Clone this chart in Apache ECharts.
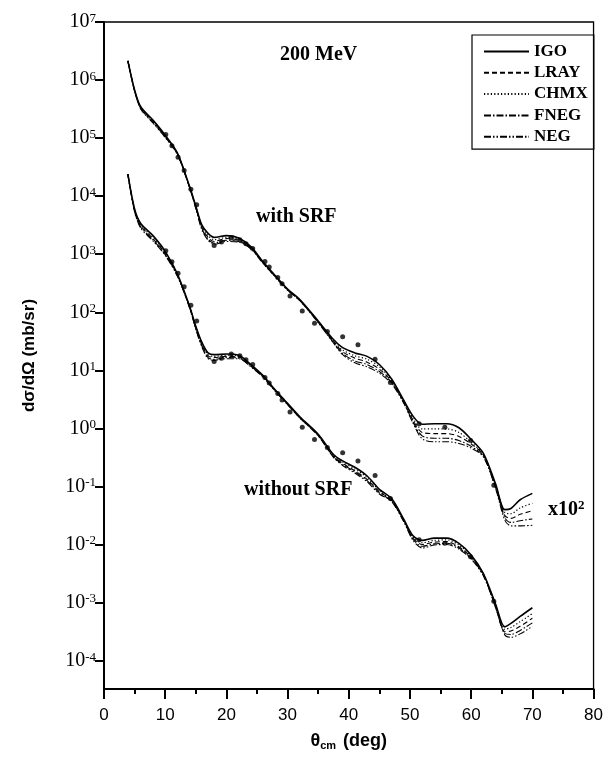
<!DOCTYPE html>
<html>
<head>
<meta charset="utf-8">
<script src="https://cdn.jsdelivr.net/npm/echarts@6/dist/echarts.min.js"></script>
<style>
  html, body { margin: 0; padding: 0; background: #fff; }
  #chart { width: 606px; height: 757px; }
</style>
</head>
<body>
<div id="chart"></div>
<script>
// Scattering angle grid (deg) for the model curves
const theta = [3.9, 5, 6, 8, 10, 12, 14, 15, 16, 17, 18, 20, 22, 24, 26, 28, 30, 32, 35, 37.5,
               39, 41, 43, 45, 47, 49, 50.5, 52, 54, 56, 58, 60, 62, 64, 65.5, 66.5, 68, 70];

// log10 of dσ/dΩ (mb/sr), calculations without SRF
const igoNoSrf  = [4.38, 3.78, 3.53, 3.32, 3.05, 2.66, 2.10, 1.76, 1.48, 1.30, 1.27, 1.28, 1.26, 1.10, 0.91, 0.66, 0.43, 0.20, -0.10, -0.45,
                   -0.56, -0.67, -0.82, -1.05, -1.21, -1.57, -1.85, -1.93, -1.89, -1.89, -1.98, -2.18, -2.50, -3.03, -3.42, -3.36, -3.24, -3.09];
const chmxNoSrf = [4.38, 3.77, 3.51, 3.29, 3.03, 2.65, 2.09, 1.75, 1.46, 1.27, 1.24, 1.26, 1.24, 1.09, 0.90, 0.65, 0.42, 0.19, -0.11, -0.47,
                   -0.58, -0.70, -0.85, -1.07, -1.23, -1.58, -1.87, -1.97, -1.93, -1.92, -2.01, -2.20, -2.51, -3.05, -3.46, -3.43, -3.33, -3.19];
const lrayNoSrf = [4.38, 3.75, 3.49, 3.27, 3.01, 2.64, 2.08, 1.73, 1.44, 1.25, 1.22, 1.24, 1.23, 1.08, 0.89, 0.65, 0.42, 0.19, -0.12, -0.48,
                   -0.60, -0.73, -0.88, -1.09, -1.24, -1.59, -1.89, -2.00, -1.96, -1.95, -2.04, -2.22, -2.52, -3.06, -3.50, -3.49, -3.41, -3.27];
const fnegNoSrf = [4.38, 3.74, 3.47, 3.25, 2.99, 2.63, 2.08, 1.72, 1.42, 1.22, 1.19, 1.22, 1.21, 1.07, 0.89, 0.64, 0.41, 0.18, -0.12, -0.49,
                   -0.62, -0.75, -0.90, -1.11, -1.25, -1.60, -1.91, -2.03, -1.99, -1.98, -2.06, -2.24, -2.53, -3.08, -3.53, -3.55, -3.48, -3.35];
const negNoSrf  = [4.38, 3.73, 3.45, 3.23, 2.98, 2.62, 2.07, 1.71, 1.40, 1.20, 1.17, 1.20, 1.20, 1.06, 0.88, 0.64, 0.41, 0.18, -0.13, -0.50,
                   -0.64, -0.77, -0.92, -1.13, -1.26, -1.61, -1.93, -2.06, -2.01, -2.00, -2.08, -2.25, -2.54, -3.09, -3.56, -3.60, -3.54, -3.41];

// log10 of dσ/dΩ (mb/sr), calculations with SRF (drawn multiplied by 10^2)
const igoSrf  = [4.33, 3.83, 3.54, 3.31, 3.05, 2.74, 2.16, 1.83, 1.50, 1.36, 1.29, 1.32, 1.28, 1.13, 0.87, 0.63, 0.40, 0.22, -0.15, -0.47,
                 -0.61, -0.70, -0.76, -0.90, -1.15, -1.52, -1.79, -1.93, -1.92, -1.92, -1.99, -2.19, -2.43, -2.96, -3.40, -3.38, -3.23, -3.12];
const chmxSrf = [4.33, 3.82, 3.53, 3.30, 3.04, 2.73, 2.15, 1.82, 1.48, 1.32, 1.25, 1.29, 1.26, 1.12, 0.86, 0.62, 0.39, 0.21, -0.16, -0.49,
                 -0.65, -0.75, -0.81, -0.94, -1.17, -1.53, -1.83, -2.01, -2.01, -2.01, -2.07, -2.24, -2.45, -2.98, -3.45, -3.47, -3.37, -3.29];
const lraySrf = [4.33, 3.82, 3.52, 3.29, 3.03, 2.73, 2.15, 1.81, 1.46, 1.29, 1.22, 1.27, 1.24, 1.11, 0.85, 0.62, 0.39, 0.21, -0.17, -0.50,
                 -0.68, -0.79, -0.86, -0.98, -1.19, -1.55, -1.86, -2.07, -2.09, -2.09, -2.14, -2.27, -2.46, -3.00, -3.50, -3.55, -3.48, -3.42];
const fnegSrf = [4.33, 3.81, 3.51, 3.27, 3.02, 2.72, 2.14, 1.80, 1.44, 1.26, 1.19, 1.24, 1.22, 1.10, 0.85, 0.61, 0.38, 0.20, -0.17, -0.52,
                 -0.71, -0.84, -0.90, -1.02, -1.21, -1.56, -1.89, -2.13, -2.17, -2.17, -2.21, -2.31, -2.48, -3.02, -3.54, -3.62, -3.59, -3.56];
const negSrf  = [4.33, 3.81, 3.50, 3.26, 3.01, 2.72, 2.14, 1.79, 1.42, 1.24, 1.17, 1.22, 1.21, 1.09, 0.84, 0.61, 0.38, 0.20, -0.18, -0.53,
                 -0.73, -0.87, -0.94, -1.05, -1.23, -1.57, -1.91, -2.18, -2.23, -2.23, -2.26, -2.34, -2.49, -3.04, -3.58, -3.68, -3.68, -3.67];

// Measured cross sections: angle (deg) and log10 of dσ/dΩ (mb/sr)
const expTheta = [10.1, 11.1, 12.1, 13.1, 14.2, 15.15, 18.0, 19.2, 20.8, 22.2, 23.2, 24.3, 26.3, 27.0,
                  28.4, 29.1, 30.4, 32.4, 34.4, 36.5, 39.0, 41.5, 44.3, 46.8, 51.5, 55.7, 59.9, 63.7];
const expLog   = [3.06, 2.87, 2.67, 2.44, 2.12, 1.85, 1.15, 1.21, 1.28, 1.25, 1.18, 1.10, 0.875, 0.78,
                  0.60, 0.49, 0.28, 0.02, -0.19, -0.33, -0.42, -0.56, -0.81, -1.21, -1.92, -1.98, -2.21, -2.98];

// Offset applied to the "with SRF" family
const SRF_SCALE = 100;

// Axis ticks
const xTicks = [0, 10, 20, 30, 40, 50, 60, 70, 80];
const yDecades = [1e-4, 1e-3, 1e-2, 1e-1, 1e0, 1e1, 1e2, 1e3, 1e4, 1e5, 1e6, 1e7];

const models = [
  { name: 'IGO',  noSrf: igoNoSrf,  srf: igoSrf,  type: 'solid',                width: 1.6 },
  { name: 'LRAY', noSrf: lrayNoSrf, srf: lraySrf, type: [5, 3],                 width: 1.1 },
  { name: 'CHMX', noSrf: chmxNoSrf, srf: chmxSrf, type: [1.2, 2.2],             width: 1.2 },
  { name: 'FNEG', noSrf: fnegNoSrf, srf: fnegSrf, type: [7, 2, 1.5, 2],         width: 1.1 },
  { name: 'NEG',  noSrf: negNoSrf,  srf: negSrf,  type: [7, 2, 1.5, 2, 1.5, 2], width: 1.1 }
];

const SERIF = '"Liberation Serif", "Times New Roman", serif';
const SANS = '"Liberation Sans", Arial, sans-serif';

function curve(logs, scale) {
  return theta.map((t, i) => [t, Math.pow(10, logs[i]) * scale]);
}

const series = [];
models.forEach(m => {
  [[m.srf, SRF_SCALE], [m.noSrf, 1]].forEach(([logs, scale]) => {
    series.push({
      name: m.name,
      type: 'line',
      data: curve(logs, scale),
      symbol: 'none',
      smooth: 0.3,
      lineStyle: { color: '#000', width: m.width, type: m.type },
      itemStyle: { color: '#000' },
      emphasis: { disabled: true },
      z: m.name === 'IGO' ? 3 : 2
    });
  });
});

[SRF_SCALE, 1].forEach(scale => {
  series.push({
    type: 'scatter',
    data: expTheta.map((t, i) => [t, Math.pow(10, expLog[i]) * scale]),
    symbol: 'circle',
    symbolSize: 5,
    itemStyle: { color: '#000' },
    emphasis: { disabled: true },
    z: 4
  });
});

const chart = echarts.init(document.getElementById('chart'), null, { renderer: 'canvas' });

chart.setOption({
  animation: false,
  backgroundColor: '#fff',
  grid: {
    left: 104, right: 12, top: 22, bottom: 68,
    show: true, borderColor: '#000', borderWidth: 1.3, backgroundColor: 'transparent'
  },
  legend: {
    data: models.map(m => m.name),
    orient: 'vertical',
    left: 472, top: 35,
    padding: [8, 6, 4, 11],
    itemGap: 4.3,
    itemWidth: 45,
    itemHeight: 14,
    borderColor: '#000',
    borderWidth: 1.2,
    borderRadius: 0,
    selectedMode: false,
    // keep only the line sample in each legend key
    itemStyle: { color: 'rgba(0,0,0,0)', borderColor: 'rgba(0,0,0,0)', borderWidth: 0 },
    textStyle: { fontFamily: SERIF, fontWeight: 'bold', fontSize: 17, color: '#000', lineHeight: 17 }
  },
  xAxis: {
    type: 'value',
    min: xTicks[0], max: xTicks[xTicks.length - 1], interval: 10,
    name: '{t|θ}{s|cm}{t| (deg)}',
    nameLocation: 'middle',
    nameGap: 42,
    nameTextStyle: {
      rich: {
        t: { fontFamily: SANS, fontWeight: 'bold', fontSize: 18, color: '#000', lineHeight: 20 },
        s: { fontFamily: SANS, fontWeight: 'bold', fontSize: 11, color: '#000', lineHeight: 20, verticalAlign: 'bottom', padding: [0, 2, 0, 0] }
      }
    },
    axisLine: { onZero: false, lineStyle: { color: '#000', width: 2 } },
    axisTick: { show: true, inside: false, length: 10, lineStyle: { color: '#000', width: 2 } },
    minorTick: { show: true, splitNumber: 2, length: 5, lineStyle: { color: '#000', width: 2 } },
    splitLine: { show: false },
    axisLabel: { fontFamily: SANS, fontSize: 17, color: '#000', margin: 18 }
  },
  yAxis: {
    type: 'log',
    logBase: 10,
    min: 3.24e-5, max: yDecades[yDecades.length - 1],
    splitNumber: 11,
    name: 'dσ/dΩ (mb/sr)',
    nameLocation: 'middle',
    nameGap: 66,
    nameTextStyle: { fontFamily: SANS, fontWeight: 'bold', fontSize: 17, color: '#000' },
    axisLine: { onZero: false, lineStyle: { color: '#000', width: 2 } },
    axisTick: { show: true, inside: false, length: 9, customValues: yDecades, lineStyle: { color: '#000', width: 2 } },
    splitLine: { show: false },
    axisLabel: {
      margin: 8,
      customValues: yDecades,
      formatter: v => {
        const e = Math.log10(v);
        if (Math.abs(e - Math.round(e)) > 1e-6) return '';
        return '{b|10}{s|' + Math.round(e) + '}';
      },
      rich: {
        b: { fontFamily: SERIF, fontSize: 20, color: '#000', lineHeight: 20 },
        s: { fontFamily: SERIF, fontSize: 13, color: '#000', lineHeight: 13, verticalAlign: 'top' }
      }
    }
  },
  graphic: [
    { type: 'text', x: 280, y: 55, style: { text: '200 MeV', font: 'bold 20px ' + SERIF, fill: '#000', align: 'left', verticalAlign: 'middle' } },
    { type: 'text', x: 256, y: 217, style: { text: 'with SRF', font: 'bold 20px ' + SERIF, fill: '#000', align: 'left', verticalAlign: 'middle' } },
    { type: 'text', x: 244, y: 490, style: { text: 'without SRF', font: 'bold 20px ' + SERIF, fill: '#000', align: 'left', verticalAlign: 'middle' } },
    { type: 'text', x: 548, y: 510, style: {
        text: '{a|x10}{s|2}', align: 'left', verticalAlign: 'middle',
        rich: {
          a: { fontFamily: SERIF, fontWeight: 'bold', fontSize: 20, fill: '#000', lineHeight: 22 },
          s: { fontFamily: SERIF, fontWeight: 'bold', fontSize: 13, fill: '#000', lineHeight: 14, verticalAlign: 'top' }
        }
    } }
  ],
  series: series
});
</script>
</body>
</html>
